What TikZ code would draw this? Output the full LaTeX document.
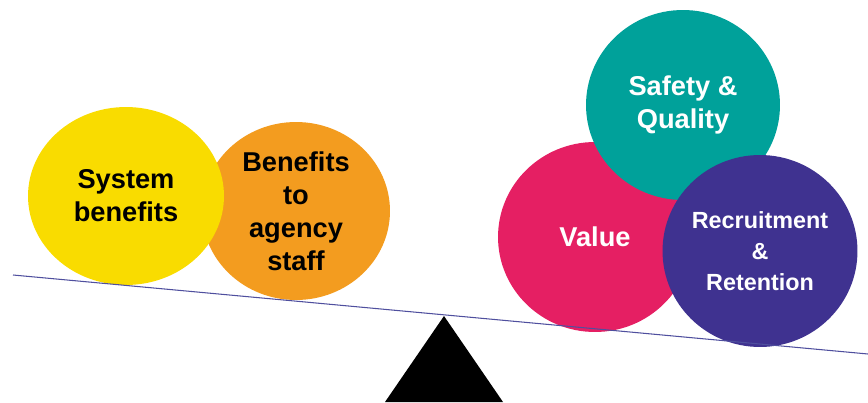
\documentclass[tikz,border=0pt]{standalone}
\usepackage{fontspec}
\setmainfont{Liberation Sans}
\usetikzlibrary{shapes.geometric}
\definecolor{sysyellow}{HTML}{F9DC00}
\definecolor{staffor}{HTML}{F39C1F}
\definecolor{valpink}{HTML}{E51F63}
\definecolor{safeteal}{HTML}{00A19A}
\definecolor{recpurple}{HTML}{3F3290}
\definecolor{beam}{HTML}{4F4F9E}
\tikzset{
  disc/.style={ellipse, inner sep=0pt, align=center, font=\bfseries\fontsize{15.5}{18.8}\selectfont},
}
\begin{document}
\begin{tikzpicture}[x=0.02cm,y=-0.02cm]
	\useasboundingbox (0,0) rectangle (868,402);
	\coordinate (L) at (13,275); \coordinate (R) at (868,354);
	\coordinate (P) at (444,316); \coordinate (B1) at (385,402); \coordinate (B2) at (503,402);
	% left pan
	\node[disc, fill=staffor, minimum width=3.76cm, minimum height=3.56cm] (staff) at (296,211) {Benefits\\to\\agency\\staff};
	\node[disc, fill=sysyellow, minimum width=3.92cm, minimum height=3.56cm] (sys) at (126,196) {System\\benefits};
	% right pan
	\node[disc, fill=valpink, text=white, minimum width=3.88cm, minimum height=3.8cm] (val) at (595,237) {Value};
	\node[disc, fill=safeteal, text=white, minimum width=3.88cm, minimum height=3.8cm] (safe) at (683,105) {Safety \&\\Quality};
	\node[disc, fill=recpurple, text=white, minimum width=3.9cm, minimum height=3.84cm,
		font=\bfseries\fontsize{13.3}{17.6}\selectfont] (rec) at (760,251) {Recruitment\\\&\\Retention};
	% beam and pivot
	\draw[beam, line width=0.6pt] (L)--(R);
	\fill (P)--(B1)--(B2)--cycle;
\end{tikzpicture}
\end{document}
